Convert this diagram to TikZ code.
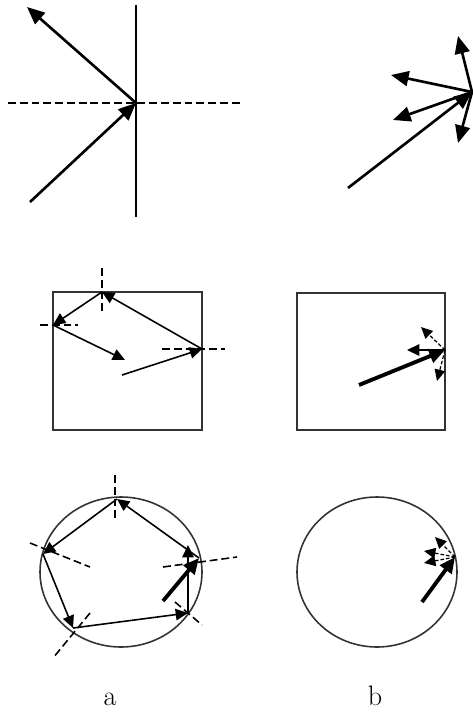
\documentclass[tikz,border=0pt]{standalone}
\usepackage{tikz}
\usetikzlibrary{arrows.meta}

\begin{document}
\begin{tikzpicture}[x=0.02cm,y=-0.02cm,
    ray/.style={line width=1.5pt,-{Triangle[length=10pt,width=8.5pt]}},
    thinray/.style={line width=0.9pt,-{Triangle[length=7pt,width=6.5pt]}},
    fatray/.style={line width=2.2pt,-{Triangle[length=9pt,width=8pt]}},
    scatray/.style={line width=0.7pt,dash pattern=on 2pt off 1.2pt,-{Triangle[length=6.5pt,width=6pt]}},
    nline/.style={line width=0.9pt,dash pattern=on 4.5pt off 2.2pt},
    wall/.style={line width=0.9pt,draw=black!80}]
  \useasboundingbox (0,0) rectangle (473,713);

  % mirror, specular
  \draw[line width=1.1pt] (136,5) -- (136,217);
  \draw[nline] (8,103) -- (242,103);
  \coordinate (o1) at (136,103);
  \coordinate (in1) at (30,202);
  \coordinate (out1) at (27,7);
  \draw[ray] (in1) -- (o1);
  \draw[ray] (o1) -- (out1);

  % rough surface, scattered
  \coordinate (o2) at (472,92);
  \coordinate (in2) at (348,188);
  \draw[ray] (in2) -- (o2);
  \foreach \p in {(458,36),(391,75),(393,120),(458,143)}
    \draw[ray] (o2) -- \p;

  % square cavity, specular walls
  \draw[wall] (53,292) rectangle (202,430);
  \coordinate (s3) at (122,375);
  \coordinate (r3) at (202,349);
  \coordinate (t3) at (102,292);
  \coordinate (l3) at (53,325);
  \coordinate (e3) at (125,360);
  \draw[nline] (102,268) -- (102,313);
  \draw[nline] (40,325) -- (78,325);
  \draw[nline] (162,349) -- (225,349);
  \draw[thinray] (s3) -- (r3);
  \draw[thinray] (r3) -- (t3);
  \draw[thinray] (t3) -- (l3);
  \draw[thinray] (l3) -- (e3);

  % square cavity, rough walls
  \draw[wall] (297,293) rectangle (445,430);
  \coordinate (s4) at (359,385);
  \coordinate (p4) at (445,350);
  \draw[fatray] (s4) -- (p4);
  \draw[scatray] (p4) -- (421,327);
  \draw[thinray] (p4) -- (407,350);
  \draw[scatray] (p4) -- (437,381);

  % round cavity, specular wall
  \draw[wall] (121,572) ellipse (81 and 75);
  \coordinate (sb) at (163,601);
  \coordinate (rt) at (199,558);
  \coordinate (tp) at (117,499);
  \coordinate (lf) at (43,554);
  \coordinate (bl) at (73,628);
  \coordinate (br) at (188,613);
  \coordinate (ur) at (188,545);
  \draw[nline] (115,475) -- (115,522);
  \draw[nline] (30,543) -- (90,567);
  \draw[nline] (90,613) -- (53,658);
  \draw[nline] (175,602) -- (202,625);
  \draw[nline] (163,567) -- (237,557);
  \draw[fatray] (sb) -- (rt);
  \draw[thinray] (rt) -- (tp);
  \draw[thinray] (tp) -- (lf);
  \draw[thinray] (lf) -- (bl);
  \draw[thinray] (bl) -- (br);
  \draw[thinray] (br) -- (ur);

  % round cavity, rough wall
  \draw[wall] (377,572) ellipse (80 and 75);
  \coordinate (sq) at (422,602);
  \coordinate (q5) at (455,557);
  \draw[fatray] (sq) -- (q5);
  \draw[scatray] (q5) -- (435,537);
  \draw[scatray] (q5) -- (424,551);
  \draw[scatray] (q5) -- (424,563);

  % captions
  \node[anchor=base,font=\fontsize{16}{19}\selectfont] (capa) at (110,705) {a};
  \node[anchor=base,font=\fontsize{16}{19}\selectfont] (capb) at (375,705) {b};
\end{tikzpicture}
\end{document}
